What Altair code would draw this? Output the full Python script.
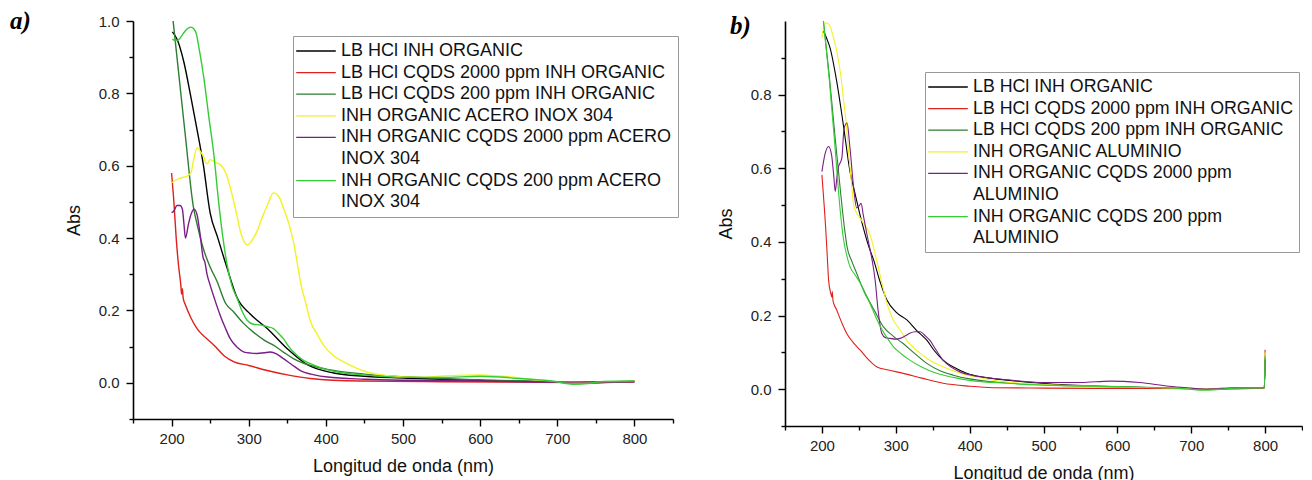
import altair as alt
import pandas as pd

# ---------------- data ----------------
SERIES_A = [
    "LB HCl INH ORGANIC",
    "LB HCl CQDS 2000 ppm INH ORGANIC",
    "LB HCl CQDS 200 ppm INH ORGANIC",
    "INH ORGANIC ACERO INOX 304",
    "INH ORGANIC CQDS 2000 ppm ACERO INOX 304",
    "INH ORGANIC CQDS 200 ppm ACERO INOX 304",
]
SERIES_B = [
    "LB HCl INH ORGANIC",
    "LB HCl CQDS 2000 ppm INH ORGANIC",
    "LB HCl CQDS 200 ppm INH ORGANIC",
    "INH ORGANIC ALUMINIO",
    "INH ORGANIC CQDS 2000 ppm ALUMINIO",
    "INH ORGANIC CQDS 200 ppm ALUMINIO",
]
# legend labels that wrap onto a second line: full name -> (first line, second line)
BREAKS_A = {
    "INH ORGANIC CQDS 2000 ppm ACERO INOX 304": ("INH ORGANIC CQDS 2000 ppm ACERO", "INOX 304"),
    "INH ORGANIC CQDS 200 ppm ACERO INOX 304": ("INH ORGANIC CQDS 200 ppm ACERO", "INOX 304"),
}
BREAKS_B = {
    "INH ORGANIC CQDS 2000 ppm ALUMINIO": ("INH ORGANIC CQDS 2000 ppm", "ALUMINIO"),
    "INH ORGANIC CQDS 200 ppm ALUMINIO": ("INH ORGANIC CQDS 200 ppm", "ALUMINIO"),
}
COLORS = ["#000000", "#e0201b", "#2e7d32", "#f2f224", "#7a1e87", "#33cc33"]

# panel a
a_black_x = [201, 207, 216, 225, 233, 241, 250, 260, 272, 285, 302, 324, 350, 376, 410, 450, 520, 600, 700, 720, 760, 800]
a_black_y = [0.97, 0.95, 0.886, 0.79, 0.70, 0.605, 0.47, 0.40, 0.317, 0.235, 0.19, 0.15, 0.094, 0.05, 0.027, 0.018, 0.012, 0.007, 0.002, 0.0, 0.003, 0.004]

a_red_x = [200, 203, 206, 209, 212, 213, 214, 215, 218, 225, 233, 244, 255, 268, 281, 300, 324, 350, 380, 445, 550, 650, 720, 800]
a_red_y = [0.58, 0.50, 0.40, 0.325, 0.27, 0.245, 0.26, 0.235, 0.215, 0.18, 0.15, 0.125, 0.104, 0.075, 0.058, 0.048, 0.034, 0.022, 0.012, 0.005, 0.003, 0.002, 0.001, 0.002]

a_dkg_x = [202, 210, 218, 228, 234, 241, 250, 259, 270, 280, 293, 306, 320, 332, 345, 358, 380, 402, 450, 488, 550, 600, 700, 720, 800]
a_dkg_y = [1.0, 0.84, 0.68, 0.49, 0.43, 0.372, 0.32, 0.28, 0.22, 0.197, 0.165, 0.14, 0.118, 0.104, 0.085, 0.067, 0.048, 0.037, 0.024, 0.018, 0.012, 0.008, 0.002, -0.002, 0.004]

a_yel_x = [200, 210, 220, 225, 229, 233, 237, 241, 246, 250, 256, 263, 268, 272, 276, 280, 285, 289, 294, 298, 303, 311, 318, 324, 332, 339, 345, 352, 358, 363, 367, 374, 380, 390, 397, 410, 423, 438, 453, 480, 520, 560, 600, 640, 680, 720, 760, 800]
a_yel_y = [0.553, 0.565, 0.571, 0.58, 0.62, 0.65, 0.64, 0.627, 0.605, 0.617, 0.61, 0.603, 0.59, 0.57, 0.54, 0.506, 0.46, 0.42, 0.39, 0.381, 0.39, 0.42, 0.46, 0.49, 0.525, 0.515, 0.483, 0.44, 0.39, 0.33, 0.28, 0.22, 0.17, 0.13, 0.104, 0.075, 0.058, 0.042, 0.03, 0.02, 0.015, 0.02, 0.022, 0.016, 0.006, 0.0, 0.003, 0.004]

a_pur_x = [200, 203, 207, 211, 214, 216, 218, 222, 226, 229, 233, 237, 241, 243, 246, 250, 256, 263, 270, 276, 285, 294, 303, 311, 320, 328, 336, 345, 356, 367, 385, 402, 450, 500, 600, 700, 800]
a_pur_y = [0.47, 0.475, 0.49, 0.49, 0.48, 0.44, 0.40, 0.44, 0.47, 0.48, 0.465, 0.41, 0.345, 0.335, 0.30, 0.27, 0.23, 0.187, 0.15, 0.122, 0.098, 0.085, 0.082, 0.081, 0.083, 0.085, 0.08, 0.067, 0.05, 0.034, 0.022, 0.016, 0.01, 0.007, 0.005, 0.002, 0.003]

a_brg_x = [201, 205, 209, 215, 220, 225, 229, 232, 236, 242, 248, 255, 261, 266, 272, 278, 285, 291, 298, 306, 315, 324, 332, 338, 345, 352, 358, 369, 380, 400, 423, 460, 500, 550, 600, 650, 700, 720, 740, 760, 800]
a_brg_y = [0.95, 0.946, 0.948, 0.965, 0.978, 0.983, 0.978, 0.965, 0.92, 0.84, 0.74, 0.627, 0.50, 0.41, 0.326, 0.27, 0.233, 0.20, 0.173, 0.162, 0.16, 0.155, 0.15, 0.138, 0.122, 0.10, 0.085, 0.065, 0.053, 0.037, 0.027, 0.02, 0.015, 0.015, 0.018, 0.012, 0.003, -0.004, -0.002, 0.004, 0.005]

# panel b
b_black_x = [202, 206, 211, 220, 229, 238, 245, 252, 263, 270, 279, 288, 300, 315, 328, 342, 352, 364, 380, 396, 420, 454, 500, 536, 600, 650, 700, 720, 760, 799, 800]
b_black_y = [0.972, 0.955, 0.927, 0.836, 0.718, 0.591, 0.53, 0.47, 0.39, 0.351, 0.29, 0.242, 0.21, 0.188, 0.16, 0.133, 0.105, 0.079, 0.058, 0.043, 0.032, 0.024, 0.015, 0.011, 0.007, 0.004, 0.002, 0.0, 0.004, 0.005, 0.085]

b_red_x = [200, 203, 205, 207, 209, 212, 213.5, 214, 215, 220, 227, 234, 243, 252, 263, 274, 290, 310, 335, 364, 400, 432, 500, 600, 700, 720, 799, 800]
b_red_y = [0.582, 0.50, 0.44, 0.37, 0.297, 0.26, 0.25, 0.265, 0.24, 0.215, 0.18, 0.15, 0.125, 0.106, 0.08, 0.061, 0.052, 0.043, 0.03, 0.016, 0.008, 0.004, 0.003, 0.002, 0.001, 0.0, 0.003, 0.107]

b_dkg_x = [202, 210, 218, 226, 231, 234, 240, 247, 254, 261, 272, 283, 296, 310, 325, 342, 360, 378, 400, 432, 500, 600, 700, 720, 760, 799, 800]
b_dkg_y = [1.0, 0.85, 0.68, 0.52, 0.43, 0.387, 0.35, 0.315, 0.28, 0.251, 0.21, 0.17, 0.145, 0.124, 0.098, 0.07, 0.05, 0.038, 0.028, 0.02, 0.012, 0.006, 0.002, -0.001, 0.003, 0.004, 0.085]

b_yel_x = [200, 204, 208, 211, 215, 220, 225, 229, 233, 236, 240, 243, 247, 252, 258, 263, 268, 274, 281, 288, 296, 306, 316, 328, 345, 364, 385, 409, 440, 477, 520, 600, 700, 720, 760, 799, 800]
b_yel_y = [0.954, 0.995, 0.993, 0.986, 0.96, 0.918, 0.86, 0.791, 0.72, 0.646, 0.56, 0.50, 0.478, 0.464, 0.445, 0.43, 0.40, 0.351, 0.29, 0.233, 0.19, 0.16, 0.13, 0.106, 0.08, 0.061, 0.045, 0.033, 0.022, 0.015, 0.011, 0.006, 0.002, 0.0, 0.003, 0.004, 0.10]

b_pur_x = [200, 204, 209, 213, 216, 218, 220, 222, 227, 230, 234, 238, 243, 247, 251, 253, 256, 260, 263, 268, 272, 276, 281, 286, 292, 300, 306, 313, 319, 326, 333, 340, 346, 355, 364, 375, 387, 410, 454, 500, 550, 590, 630, 670, 700, 720, 760, 799, 800]
b_pur_y = [0.591, 0.637, 0.659, 0.637, 0.58, 0.537, 0.57, 0.60, 0.628, 0.709, 0.723, 0.655, 0.546, 0.492, 0.50, 0.505, 0.473, 0.43, 0.40, 0.35, 0.297, 0.215, 0.152, 0.14, 0.138, 0.136, 0.138, 0.145, 0.152, 0.156, 0.156, 0.145, 0.133, 0.105, 0.079, 0.06, 0.047, 0.035, 0.025, 0.018, 0.018, 0.022, 0.018, 0.008, 0.003, 0.0, 0.003, 0.004, 0.08]

b_brg_x = [202, 210, 218, 225, 229, 234, 238, 245, 252, 258, 265, 272, 279, 288, 297, 308, 319, 335, 355, 378, 400, 450, 500, 600, 680, 720, 760, 799, 800]
b_brg_y = [1.0, 0.84, 0.65, 0.48, 0.41, 0.36, 0.333, 0.31, 0.288, 0.26, 0.233, 0.20, 0.17, 0.14, 0.115, 0.095, 0.079, 0.06, 0.043, 0.032, 0.024, 0.016, 0.011, 0.007, 0.003, -0.003, 0.003, 0.004, 0.09]

A_DATA = [(a_black_x, a_black_y), (a_red_x, a_red_y), (a_dkg_x, a_dkg_y),
          (a_yel_x, a_yel_y), (a_pur_x, a_pur_y), (a_brg_x, a_brg_y)]
B_DATA = [(b_black_x, b_black_y), (b_red_x, b_red_y), (b_dkg_x, b_dkg_y),
          (b_yel_x, b_yel_y), (b_pur_x, b_pur_y), (b_brg_x, b_brg_y)]

X_TICKS = list(range(150, 851, 50))
Y_TICKS_A = [round(-0.1 + 0.1 * i, 1) for i in range(12)]
Y_TICKS_B = [round(-0.1 + 0.1 * i, 1) for i in range(11)]

FONT = "Liberation Sans"


def frame(names, data):
    rows = []
    for order, (name, (xs, ys)) in enumerate(zip(names, data)):
        for x, y in zip(xs, ys):
            rows.append({"serie": name, "wl": x, "abs": y, "o": order})
    return pd.DataFrame(rows)


def legend_scale(names, breaks):
    """Legend domain with an extra, invisible entry for each wrapped second line."""
    domain, rng, mapping = [], [], {}
    for name, col in zip(names, COLORS):
        domain.append(name)
        rng.append(col)
        if name in breaks:
            first, second = breaks[name]
            key = "~" + name
            mapping[name] = first
            mapping[key] = second
            domain.append(key)
            rng.append("transparent")
    expr = "datum.label"
    for k, v in mapping.items():
        expr = f"datum.label === '{k}' ? '{v}' : ({expr})"
    return domain, rng, expr


def panel(names, data, breaks, letter, w, h, yticks, leg_x, leg_y, title_dx, title_dy, sw, lfs):
    df = frame(names, data)
    domain, rng, lexpr = legend_scale(names, breaks)
    x_axis = alt.Axis(
        title="Longitud de onda (nm)", values=X_TICKS,
        labelExpr="datum.value % 100 === 0 && datum.value > 160 && datum.value < 840 ? format(datum.value, 'd') : ''",
        tickSize={"condition": {"test": "datum.value % 100 === 0", "value": 7}, "value": 4},
        labelPadding=5, titlePadding=11, labelFlush=False, labelOverlap=False,
    )
    y_axis = alt.Axis(
        title="Abs", values=yticks,
        labelExpr="abs(round(datum.value * 10)) % 2 === 0 && datum.value > -0.05 ? format(datum.value, '.1f') : ''",
        tickSize={"condition": {"test": "abs(round(datum.value * 10)) % 2 === 0", "value": 7}, "value": 4},
        labelPadding=7, titlePadding=15, labelFlush=False, labelOverlap=False,
    )
    legend = alt.Legend(
        orient="none", legendX=leg_x, legendY=leg_y, title=None,
        symbolType="M-2.2,0H2.2", symbolSize=324, symbolStrokeWidth=1.3, symbolOffset=8,
        labelFont=FONT, labelFontSize=lfs, labelColor="#111111",
        labelExpr=lexpr, labelLimit=600, labelOffset=15, rowPadding=2.6, padding=5,
        strokeColor="#999999", fillColor="white", values=domain,
    )
    return alt.Chart(df).mark_line(strokeWidth=sw, interpolate="monotone", clip=True).encode(
        x=alt.X("wl:Q", scale=alt.Scale(domain=[150, 850], nice=False, zero=False), axis=x_axis),
        y=alt.Y("abs:Q", scale=alt.Scale(domain=[-0.1, 1.0], nice=False, zero=False), axis=y_axis),
        color=alt.Color("serie:N", scale=alt.Scale(domain=domain, range=rng), legend=legend),
        order=alt.Order("o:Q"),
        detail="serie:N",
    ).properties(
        width=w, height=h,
        title=alt.TitleParams(
            text=letter, anchor="start", frame="group", font="Liberation Serif",
            fontStyle="italic", fontWeight="bold", fontSize=25, color="black",
            dx=title_dx, dy=title_dy, offset=0, baseline="top",
        ),
    )


pa = panel(SERIES_A, A_DATA, BREAKS_A, "a)", 540, 398, Y_TICKS_A, 160, 15, -123, 20, 1.4, 18)
pb = panel(SERIES_B, B_DATA, BREAKS_B, "b)", 517, 405, Y_TICKS_B, 140, 51, -55, 18, 1.1, 17.8)

chart = alt.hconcat(pa, pb, spacing=112, bounds="flush").resolve_scale(
    color="independent"
).resolve_legend(color="independent").properties(
    padding={"left": 2, "top": 1, "right": 0, "bottom": 0}, background="white"
).configure_view(stroke=None).configure_axis(
    domainColor="black", domainWidth=1.6, tickColor="black", tickWidth=1.4,
    labelFont=FONT, labelFontSize=15, labelColor="#222222",
    titleFont=FONT, titleFontSize=18, titleFontWeight="normal", titleColor="#111111",
    grid=False,
)

chart.save("out.html", embed_options={"renderer": "svg", "actions": False})
